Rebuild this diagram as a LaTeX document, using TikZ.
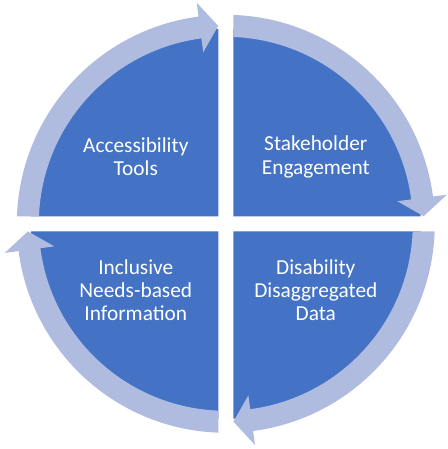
\documentclass[tikz,border=0pt]{standalone}
\usepackage{fontspec}
\setmainfont{Carlito}
\usetikzlibrary{positioning}
\definecolor{quadblue}{RGB}{68,114,196}
\definecolor{ringblue}{RGB}{176,188,223}
\tikzset{x=0.75pt, y=0.75pt,
quad/.style={ % Blue quarter of the disc
fill=quadblue},
ring/.style={ % Light arrow round the disc
fill=ringblue},
quadtext/.style={ % White text in each quarter
text=white,
align=center,
font=\fontsize{16}{17.5}\selectfont}}

\begin{document}
\begin{tikzpicture}
	\useasboundingbox (-225.8,-225.2) rectangle (222.2,223.8);
	\foreach \r in {0,-90,-180,-270}{
		\fill[quad, rotate=\r] (-7.5,7.5) -- (92.2:195) arc[start angle=92.2, end angle=177.8, radius=195] -- cycle;
	}
	\foreach \r in {0,-90,-180,-270}{
		\fill[ring, rotate=\r] (177.7:187) -- (177.94:209) arc[start angle=177.94, end angle=97.5, radius=209] -- (97.5:223) -- (92.2:198) -- (97.5:173) -- (97.5:187) arc[start angle=97.5, end angle=177.7, radius=187] -- cycle;
	}
	\node[quadtext] (tools) at (-90,67) {Accessibility\\Tools};
	\node[quadtext] (stake) at (90,67) {Stakeholder\\Engagement};
	\node[quadtext] (needs) at (-90,-66.5) {Inclusive\\Needs-based\\Information};
	\node[quadtext] (data) at (90,-66.5) {Disability\\Disaggregated\\Data};
\end{tikzpicture}
\end{document}
